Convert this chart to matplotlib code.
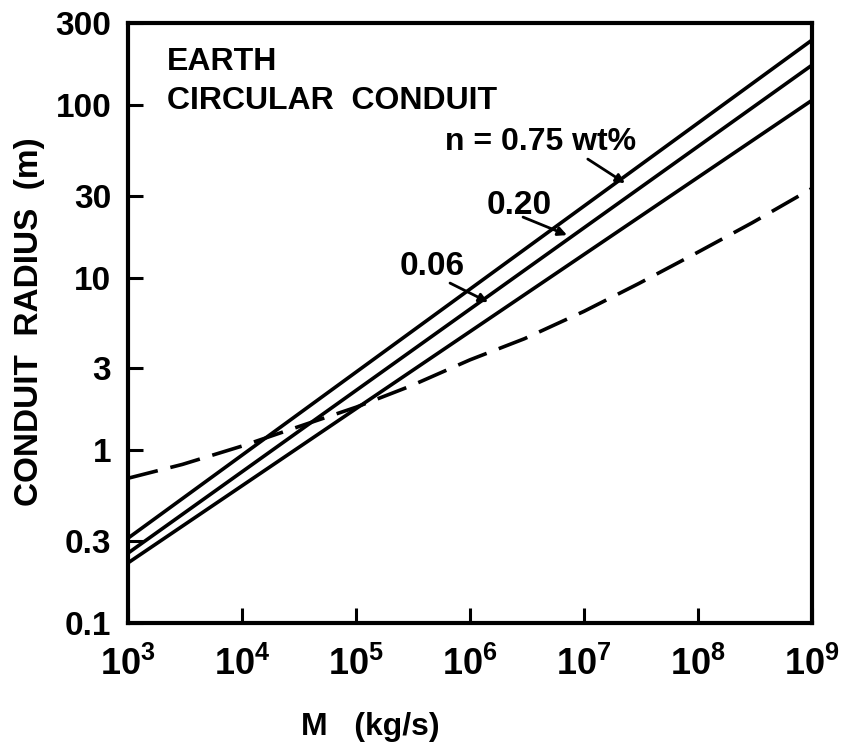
import numpy as np
import matplotlib
matplotlib.use("Agg")
import matplotlib.pyplot as plt

plt.rcParams['font.family'] = ['Liberation Sans', 'DejaVu Sans']
plt.rcParams['font.weight'] = 'bold'
plt.rcParams['mathtext.fontset'] = 'custom'
plt.rcParams['mathtext.rm'] = 'Liberation Sans:bold'
plt.rcParams['mathtext.it'] = 'Liberation Sans:bold'
plt.rcParams['mathtext.bf'] = 'Liberation Sans:bold'

# mass eruption rate (kg/s) and conduit radius (m)
mdot = [1e3, 1e9]
r_075 = [0.31, 239]
r_020 = [0.254, 171]
r_006 = [0.223, 107]

mdot_dash = [1e3, 3e3, 1e4, 3e4, 1e5, 3e5, 1e6, 3e6, 1e7, 3e7, 1e8, 3e8, 1e9]
r_dash = [0.69, 0.83, 1.06, 1.36, 1.78, 2.36, 3.35, 4.44, 6.4, 9.25, 14.1, 20.9, 33]

xticks = [1e3, 1e4, 1e5, 1e6, 1e7, 1e8, 1e9]
xticklabels = ['$10^{%d}$' % k for k in range(3, 10)]
yticks = [0.1, 0.3, 1, 3, 10, 30, 100, 300]
yticklabels = ['0.1', '0.3', '1', '3', '10', '30', '100', '300']

fig = plt.figure(figsize=(8.43, 7.48), dpi=100)
ax = fig.add_axes([128/843, 125/748, 684/843, 600/748])

lw = 2.6
ax.plot(mdot, r_075, color='black', lw=lw)
ax.plot(mdot, r_020, color='black', lw=lw)
ax.plot(mdot, r_006, color='black', lw=lw)
ax.plot(mdot_dash, r_dash, color='black', lw=lw, ls=(0, (8.5, 3.6)))

ax.set_xscale('log')
ax.set_yscale('log')
ax.set_xlim(1e3, 1e9)
ax.set_ylim(0.1, 300)

ax.set_xticks(xticks)
ax.set_xticklabels(xticklabels, fontsize=26)
ax.set_yticks(yticks)
ax.set_yticklabels(yticklabels, fontsize=24)
ax.minorticks_off()
ax.tick_params(direction='in', length=11, width=2.2, pad=12)
ax.tick_params(axis='x', pad=17)
for s in ax.spines.values():
    s.set_linewidth(3)

ax.text(0.057, 0.935, 'EARTH', transform=ax.transAxes, fontsize=23,
        ha='left', va='center')
ax.text(0.057, 0.870, 'CIRCULAR  CONDUIT', transform=ax.transAxes, fontsize=23,
        ha='left', va='center')

arrow = dict(arrowstyle='-|>', lw=2, color='black', mutation_scale=13,
             shrinkA=0, shrinkB=0)
ax.annotate('', xy=(2.29e7, 35.4), xytext=(1.08e7, 48.8), arrowprops=arrow)
ax.annotate('', xy=(7.1e6, 17.7), xytext=(2.92e6, 22.5), arrowprops=arrow)
ax.annotate('', xy=(1.44e6, 7.24), xytext=(6.68e5, 9.33), arrowprops=arrow)
ax.text(4.2e6, 61.2, 'n = 0.75 wt%', fontsize=23, ha='center', va='center')
ax.text(2.69e6, 26.1, '0.20', fontsize=24, ha='center', va='center')
ax.text(4.64e5, 11.7, '0.06', fontsize=24, ha='center', va='center')

fig.text(30/843, 1 - 322/748, 'CONDUIT  RADIUS  (m)', rotation=90,
         fontsize=24, ha='center', va='center')
fig.text(370/843, 1 - 727/748, 'M   (kg/s)', fontsize=23,
         ha='center', va='center')

fig.savefig('out.png', dpi=100)
